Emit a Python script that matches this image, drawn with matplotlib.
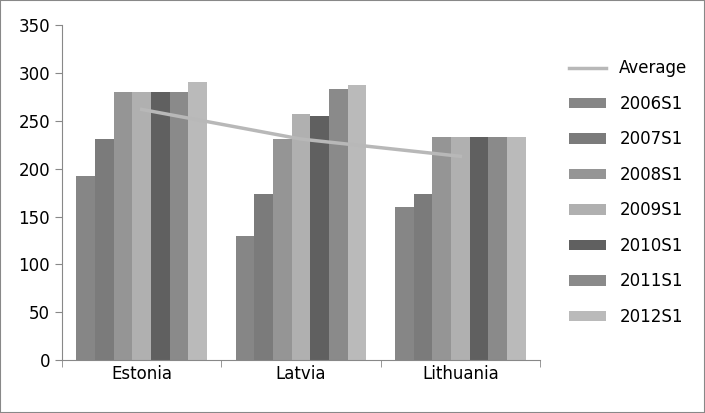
import matplotlib
matplotlib.use("Agg")
import matplotlib.pyplot as plt
import numpy as np

countries = ["Estonia", "Latvia", "Lithuania"]
series = ["2006S1", "2007S1", "2008S1", "2009S1", "2010S1", "2011S1", "2012S1"]
values = [
    [192, 130, 160],
    [231, 174, 174],
    [280, 231, 233],
    [280, 257, 233],
    [280, 255, 233],
    [280, 283, 233],
    [291, 287, 233],
]
average = [262, 231, 213]
colors = ["#868686", "#7b7b7b", "#959595", "#b0b0b0", "#606060", "#8a8a8a", "#bababa"]

fig = plt.figure(figsize=(7.05, 4.13), dpi=100)
fig.patches.append(plt.Rectangle((0, 0), 1, 1, transform=fig.transFigure,
                                  fill=False, edgecolor="#888888", lw=1.5))
ax = fig.add_axes([0.088, 0.128, 0.678, 0.811])
x = np.arange(len(countries))
w = 0.117
for i, (s, v, c) in enumerate(zip(series, values, colors)):
    ax.bar(x + (i - 3) * w, v, w, color=c, label=s)
ax.plot(x, average, color="#b8b8b8", lw=2.5, label="Average")
ax.set_xlim(-0.5, 2.5)
ax.set_ylim(0, 350)
ax.set_yticks(range(0, 351, 50))
ax.set_xticks(x)
ax.set_xticklabels(countries)
ax.set_xticks([-0.5, 0.5, 1.5, 2.5], minor=True)
ax.tick_params(axis="x", which="major", length=0)
ax.tick_params(axis="x", which="minor", length=5, color="#888888")
ax.tick_params(axis="y", length=5, color="#888888")
ax.tick_params(labelsize=12)
for t in ax.get_xticklabels() + ax.get_yticklabels():
    t.set_fontfamily("DejaVu Sans")
for sp in ["top", "right"]:
    ax.spines[sp].set_visible(False)
for sp in ["left", "bottom"]:
    ax.spines[sp].set_color("#888888")
ax.legend(loc="center left", bbox_to_anchor=(1.03, 0.5), frameon=False,
          fontsize=12, labelspacing=1.05, handlelength=2.2, handleheight=0.6)
fig.savefig("out.png", dpi=100)
